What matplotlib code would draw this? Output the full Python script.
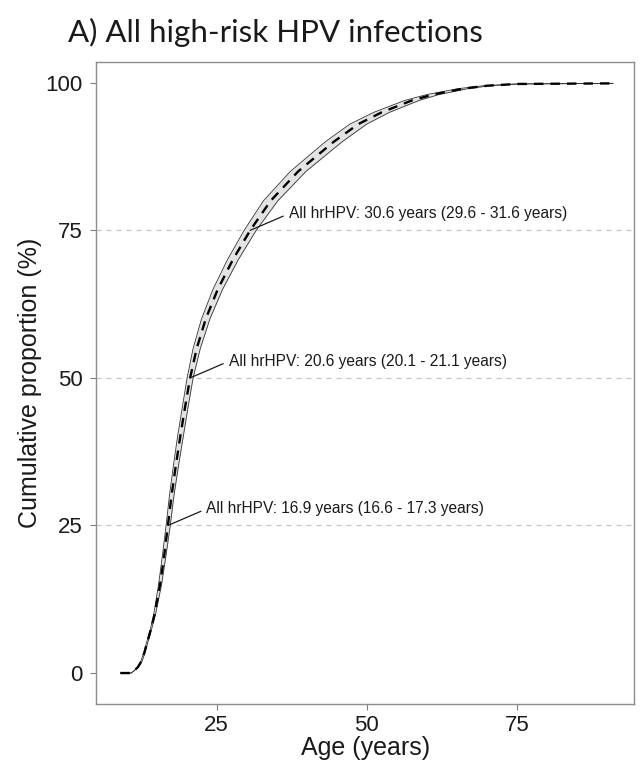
import matplotlib
matplotlib.use("Agg")
import matplotlib.pyplot as plt

# cumulative proportion (%) and age (years)
pct_levels = [0, 0, 0.5, 1, 2, 3.5, 5, 7.5, 10, 15, 20, 25, 30, 35, 40, 45, 50, 55, 60, 65,
              70, 75, 80, 85, 90, 93, 95, 97, 98, 99, 99.5, 99.8, 99.9]
age_median = [9.0, 10.8, 11.4, 11.9, 12.5, 13.0, 13.4, 14.1, 14.7, 15.6, 16.3, 16.9, 17.5, 18.2,
              18.95, 19.75, 20.6, 21.7, 23.2, 25.2, 27.7, 30.6, 34.0, 38.6, 44.5, 48.6, 52.5,
              57.5, 61.0, 66.0, 70.0, 75.0, 91.0]
age_lower = [9.0, 10.8, 11.4, 11.85, 12.4, 12.9, 13.3, 14.0, 14.55, 15.35, 16.0, 16.6, 17.15, 17.8,
             18.5, 19.3, 20.1, 21.1, 22.5, 24.4, 26.8, 29.6, 32.8, 37.3, 43.1, 47.2, 51.2,
             56.3, 60.0, 65.2, 69.4, 74.6, 91.0]
age_upper = [9.0, 10.8, 11.4, 11.95, 12.6, 13.1, 13.5, 14.2, 14.85, 15.85, 16.6, 17.3, 17.9, 18.65,
             19.45, 20.25, 21.1, 22.3, 23.9, 26.0, 28.6, 31.6, 35.2, 39.9, 45.9, 50.0, 53.8,
             58.7, 62.0, 66.8, 70.6, 75.4, 91.0]

quartiles = [25, 50, 75]
quartile_age = [16.9, 20.6, 30.6]
quartile_lo = [16.6, 20.1, 29.6]
quartile_hi = [17.3, 21.1, 31.6]

x_ticks = [25, 50, 75]
y_ticks = [0, 25, 50, 75, 100]

plt.rcParams['font.family'] = ['Liberation Sans', 'DejaVu Sans']

fig = plt.figure(figsize=(6.44, 7.66), dpi=100)
ax = fig.add_axes([0.1497, 0.0809, 0.8348, 0.838])

# reference lines at the quartiles
for q in quartiles:
    ax.axhline(q, color='#c4c4c4', lw=0.9, ls=(0, (4, 4)), zorder=1)

# confidence band
ax.fill_betweenx(pct_levels, age_lower, age_upper, color='#e3e3e3', lw=0, zorder=2)
ax.plot(age_lower, pct_levels, color='#333333', lw=0.6, zorder=3)
ax.plot(age_upper, pct_levels, color='#333333', lw=0.6, zorder=3)
ax.plot(age_median, pct_levels, color='black', lw=1.7, ls=(0, (4, 3)), zorder=4)

for q, a, lo, hi in zip(quartiles, quartile_age, quartile_lo, quartile_hi):
    ax.annotate(f"All hrHPV: {a} years ({lo} - {hi} years)",
                xy=(a, q), xytext=(a + 6.4, q + 2.8),
                ha='left', va='center', fontsize=11.2, color='#1a1a1a',
                arrowprops=dict(arrowstyle='-', color='#1a1a1a', lw=0.9,
                                relpos=(0, 0.5), shrinkA=2, shrinkB=0),
                zorder=5)

ax.set_xlim(5.0, 94.5)
ax.set_ylim(-5.25, 103.5)
ax.set_xticks(x_ticks)
ax.set_yticks(y_ticks)
ax.tick_params(axis='both', labelsize=16, colors='#7f7f7f', labelcolor='#1a1a1a',
               length=4, width=0.8)
ax.tick_params(axis='y', pad=6)
ax.tick_params(axis='x', pad=4)
for s in ax.spines.values():
    s.set_color('#8c8c8c')
    s.set_linewidth(1.0)

ax.set_xlabel("Age (years)", fontsize=18, color='#1a1a1a', labelpad=0)
ax.set_ylabel("Cumulative proportion (%)", fontsize=18, color='#1a1a1a', labelpad=2)

fig.text(0.105, 0.945, "A) All high-risk HPV infections", fontsize=22.5,
         family=['Lato', 'DejaVu Sans'], color='#1a1a1a', ha='left', va='baseline')

fig.savefig("out.png", dpi=100)
